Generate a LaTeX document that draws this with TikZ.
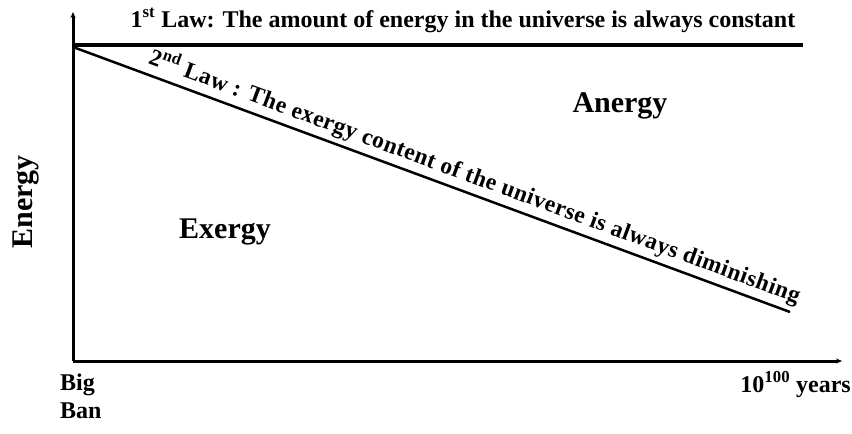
\documentclass[tikz,border=0pt]{standalone}
\usepackage{fontspec}
\setmainfont{Liberation Serif}
\usetikzlibrary{arrows.meta}
\tikzset{
  lbl/.style={font=\bfseries\fontsize{24}{26}\selectfont, inner sep=0pt},
  big/.style={font=\bfseries\fontsize{30}{32}\selectfont, inner sep=0pt},
  slopedlbl/.style={inner sep=0pt, font=\bfseries\fontsize{23.5}{25}\selectfont\addfontfeatures{LetterSpace=2}},
  axis/.style={line width=3pt, -{Stealth[length=6pt,width=5pt]}},
}
\begin{document}
\begin{tikzpicture}[x=1pt,y=-1pt]
\useasboundingbox (0,0) rectangle (852,434);
\coordinate (O) at (73,361);
\coordinate (ytop) at (73,12);
\coordinate (xend) at (842,361);
\coordinate (tl) at (73,45);
\coordinate (tr) at (803,45);
\coordinate (ds) at (73,47);
\coordinate (de) at (790,312);
\draw[axis] (O) -- (ytop);
\draw[axis] (O) -- (xend);
\draw[line width=4pt] (tl) -- (tr);
\draw[line width=2.5pt] (ds) -- node[slopedlbl, pos=0.552, sloped, above=4pt] (law2) {2\textsuperscript{nd} Law : The exergy content of the universe is always diminishing} (de);
\node[lbl, anchor=base] (law1) at (463,27) {1\textsuperscript{st} Law: The amount of energy in the universe is always constant};
\node[big, anchor=base] (anergy) at (620,112) {Anergy};
\node[big, anchor=base] (exergy) at (225,238) {Exergy};
\node[big, anchor=base, rotate=90] (energy) at (32,202) {Energy};
\node[lbl, anchor=base west] (big) at (60,390) {Big};
\node[lbl, anchor=base west] (ban) at (60,418) {Ban};
\node[lbl, anchor=base east] (years) at (851,392) {10\textsuperscript{100} years};
\end{tikzpicture}
\end{document}
